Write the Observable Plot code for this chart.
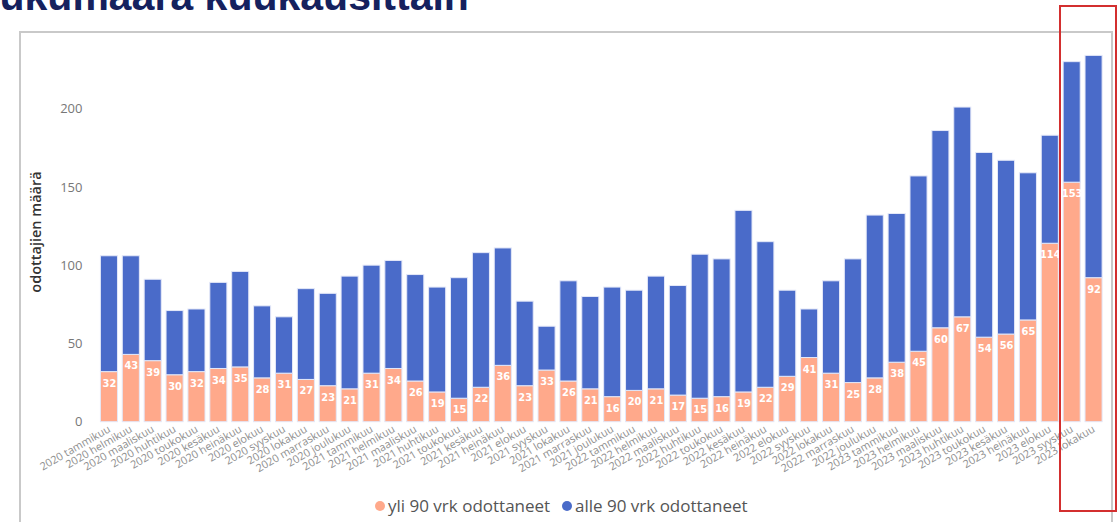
<!DOCTYPE html>
<html>
<head>
<meta charset="utf-8">
<script src="https://cdn.jsdelivr.net/npm/d3@7"></script>
<script src="https://cdn.jsdelivr.net/npm/@observablehq/plot@0.6"></script>
<style>
  html, body { margin: 0; padding: 0; background: #fff; width: 1120px; height: 522px; overflow: hidden; position: relative; }
  #title { position: absolute; left: -226px; top: -27px; font: bold 41px "Liberation Sans", Arial, sans-serif; color: #15215e; white-space: nowrap; }
  #frame { position: absolute; left: 19px; top: 31px; width: 1094px; height: 600px; border: 2px solid #c9c9c9; box-sizing: border-box; }
  #chart { position: absolute; left: 0; top: 0; }
  #ylabel { position: absolute; left: 35px; top: 232px; transform: translate(-50%, -50%) rotate(-90deg); font: 600 14.5px "Open Sans", sans-serif; color: #333; white-space: nowrap; }
  .leg { position: absolute; top: 494px; font: 17px "Open Sans", sans-serif; color: #555; white-space: nowrap; }
  .leg span.dot { display: inline-block; width: 10px; height: 10px; border-radius: 50%; margin-right: 3px; vertical-align: 1px; }
  #redbox { position: absolute; left: 1059px; top: 5px; width: 58px; height: 507px; border: 2px solid #d32f2f; box-sizing: border-box; }
</style>
</head>
<body>
<div id="title">Odottajien lukumäärä kuukausittain</div>
<div id="frame"></div>
<div id="chart"></div>
<div id="ylabel">odottajien määrä</div>
<div class="leg" id="leg1" style="left:375px"><span class="dot" style="background:#FFA98B"></span><span id="t1"></span></div>
<div class="leg" id="leg2" style="left:562px"><span class="dot" style="background:#4A6BC9"></span><span id="t2"></span></div>
<div id="redbox"></div>
<script>
const kuukaudet = [
  "2020 tammikuu","2020 helmikuu","2020 maaliskuu","2020 huhtikuu","2020 toukokuu","2020 kesäkuu",
  "2020 heinäkuu","2020 elokuu","2020 syyskuu","2020 lokakuu","2020 marraskuu","2020 joulukuu",
  "2021 tammikuu","2021 helmikuu","2021 maaliskuu","2021 huhtikuu","2021 toukokuu","2021 kesäkuu",
  "2021 heinäkuu","2021 elokuu","2021 syyskuu","2021 lokakuu","2021 marraskuu","2021 joulukuu",
  "2022 tammikuu","2022 helmikuu","2022 maaliskuu","2022 huhtikuu","2022 toukokuu","2022 kesäkuu",
  "2022 heinäkuu","2022 elokuu","2022 syyskuu","2022 lokakuu","2022 marraskuu","2022 joulukuu",
  "2023 tammikuu","2023 helmikuu","2023 maaliskuu","2023 huhtikuu","2023 toukokuu","2023 kesäkuu",
  "2023 heinäkuu","2023 elokuu","2023 syyskuu","2023 lokakuu"
];
const yli90 = [32,43,39,30,32,34,35,28,31,27,23,21, 31,34,26,19,15,22,36,23,33,26,21,16,
               20,21,17,15,16,19,22,29,41,31,25,28, 38,45,60,67,54,56,65,114,153,92];
const alle90 = [74,63,52,41,40,55,61,46,36,58,59,72, 69,69,68,67,77,86,75,54,28,64,59,70,
                64,72,70,92,88,116,93,55,31,59,79,104, 95,112,126,134,118,111,94,69,77,142];
const sarjat = ["yli 90 vrk odottaneet", "alle 90 vrk odottaneet"];
const varit = ["#FFA98B", "#4A6BC9"];
const yTicks = [0, 50, 100, 150, 200];

document.getElementById("t1").textContent = sarjat[0];
document.getElementById("t2").textContent = sarjat[1];

const rows = [];
kuukaudet.forEach((k, i) => {
  rows.push({kk: k, sarja: sarjat[0], arvo: yli90[i]});
  rows.push({kk: k, sarja: sarjat[1], arvo: alle90[i]});
});
const labels = kuukaudet.map((k, i) => ({kk: k, arvo: yli90[i]}));

const chart = Plot.plot({
  width: 1120,
  height: 490,
  marginLeft: 98,
  marginRight: 15.5,
  marginTop: 46,
  marginBottom: 68.3,
  style: {background: "transparent", overflow: "visible"},
  x: {domain: kuukaudet, paddingInner: 0.22, paddingOuter: 0.11, label: null},
  y: {domain: [0, 240], label: null},
  color: {domain: sarjat, range: varit},
  marks: [
    Plot.gridY(yTicks, {stroke: "#b5b5b5", strokeOpacity: 1, strokeDasharray: "1.5,5", strokeWidth: 1.3, x1: 92, x2: 1112}),
    Plot.barY(rows, {x: "kk", y: "arvo", fill: "sarja", stroke: "#e4e8f8", strokeWidth: 1, order: sarjat}),
    Plot.text(labels, {x: "kk", y: "arvo", text: d => String(d.arvo), dy: 11, fill: "white",
      fontWeight: "bold", fontSize: 11, fontFamily: "'Liberation Sans Narrow', 'DejaVu Sans Condensed', sans-serif"}),
    Plot.axisY(yTicks, {tickSize: 0, tickPadding: 16, fontSize: 13, fill: "#777", label: null, fontFamily: "'Open Sans', sans-serif"}),
    Plot.axisX({tickSize: 0, tickPadding: 6, tickRotate: -30, fontSize: 10.8, fill: "#8f8f8f", label: null, fontFamily: "'Open Sans', sans-serif"})
  ]
});
document.getElementById("chart").appendChild(chart);
</script>
</body>
</html>
